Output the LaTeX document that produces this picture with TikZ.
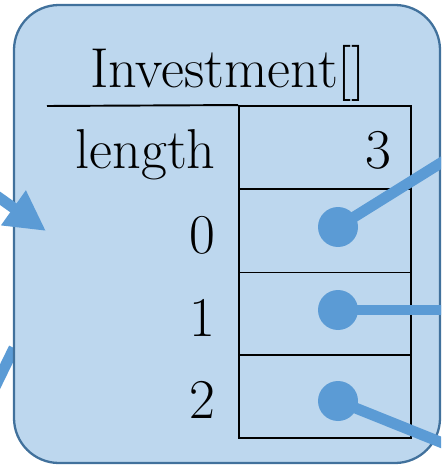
\documentclass[tikz,border=0pt]{standalone}
\usetikzlibrary{arrows.meta,positioning}
\definecolor{boxfill}{HTML}{BDD7EE}
\definecolor{boxline}{HTML}{41719C}
\definecolor{refblue}{HTML}{5B9BD5}
\begin{document}
\begin{tikzpicture}[x=0.02cm,y=-0.02cm,
    cell/.style={draw, line width=1.1pt, minimum width=3.44cm, minimum height=1.66cm, inner sep=0pt},
    txt/.style={font=\fontsize{32}{36}\selectfont, inner sep=0pt},
    refline/.style={refblue, line width=6.2pt},
    dot/.style={circle, fill=refblue, minimum size=0.8cm, inner sep=0pt}]
    \useasboundingbox (0,0) rectangle (441,466);
    \clip (0,0) rectangle (441,466);

    % 外から来る参照
    \coordinate (inA) at (-6,194);
    \coordinate (inB) at (-6,389);
    \draw[refline] (inB) -- (14,348);

    % 配列オブジェクト
    \draw[boxline, line width=1.3pt, fill=boxfill, rounded corners=0.9cm] (14,5) rectangle (440,463);
    \coordinate (tipA) at (46,231);
    \draw[refline, -{Triangle[length=0.8cm, width=0.8cm]}] (inA) -- (tipA);

    % 見出し
    \node[txt, anchor=base] (title) at (228,88) {Investment[]};

    % 各セル
    \node[cell] (clen) at (325,147.5) {};
    \node[cell] (c0) at (325,231) {};
    \node[cell] (c1) at (325,314) {};
    \node[cell] (c2) at (325,396.5) {};
    \draw[line width=1.1pt] (47,106) -- (clen.north west);

    % ラベル
    \node[txt, anchor=base east] (llen) at (216,168) {length};
    \node[txt, anchor=base east] (l0) at (216,253) {0};
    \node[txt, anchor=base east] (l1) at (216,336) {1};
    \node[txt, anchor=base east] (l2) at (216,418) {2};
    \node[txt, anchor=base east] (vlen) at (392,168) {3};

    % 要素の参照
    \node[dot] (d0) at (338,227) {};
    \node[dot] (d1) at (338,310) {};
    \node[dot] (d2) at (338,401) {};
    \coordinate (out0) at (460,151);
    \coordinate (out1) at (460,310);
    \coordinate (out2) at (460,450);
    \draw[refline] (d0.center) -- (out0);
    \draw[refline] (d1.center) -- (out1);
    \draw[refline] (d2.center) -- (out2);
\end{tikzpicture}
\end{document}
